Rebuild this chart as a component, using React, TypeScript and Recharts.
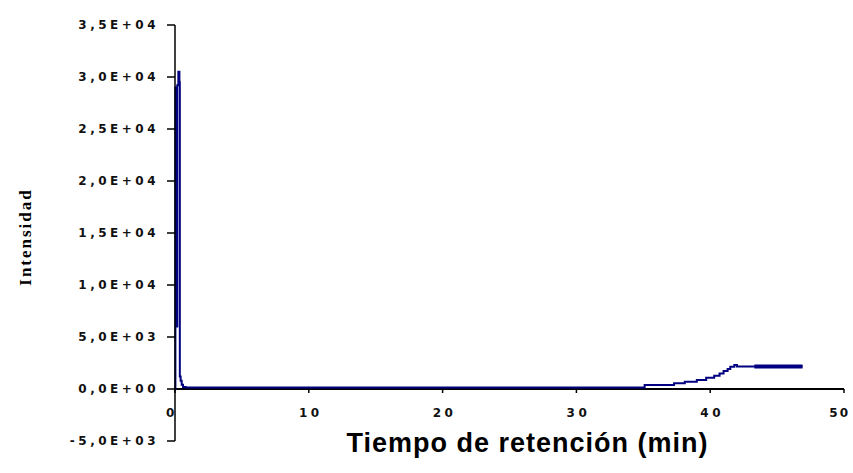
import React from "react";
import { LineChart, Line, XAxis, YAxis, ReferenceLine } from "recharts";

const tiempos = [
  0, 0.03, 0.1, 0.17, 0.25, 0.33, 0.36, 0.42, 0.5, 0.6, 0.8,
  35.1, 37.3, 38.1, 39.0, 39.7, 40.3, 40.7, 41.0, 41.3, 41.5, 41.8, 42.0,
  43.3, 46.9,
];
const intensidad = [
  0, 29000, 6000, 29200, 30500, 29500, 1200, 800, 400, 200, 150,
  380, 550, 700, 870, 1090, 1280, 1500, 1730, 1920, 2150, 2300, 2170,
  2170, 2170,
];
// tramo final con ruido (se ve mas grueso)
const ruido = [
  null, null, null, null, null, null, null, null, null, null, null,
  null, null, null, null, null, null, null, null, null, null, null, null,
  2170, 2170,
];

const xTicks = [0, 10, 20, 30, 40, 50];
const yTicks = [-5000, 0, 5000, 10000, 15000, 20000, 25000, 30000, 35000];

const W = 853;
const H = 473;
const TOP = 25;
const X_AXIS_H = 32;
const Y_MIN = -5000;
const Y_MAX = 35000;
const PLOT_H = H - TOP - X_AXIS_H;
const ZERO_Y = TOP + (PLOT_H * Y_MAX) / (Y_MAX - Y_MIN);

const data = tiempos.map((t, i) => ({ t, v: intensidad[i], r: ruido[i] }));

const tickFont = {
  fontFamily: "DejaVu Sans",
  fontSize: 12,
  fontWeight: "bold",
  letterSpacing: 3.5,
  fill: "#111",
};

const fmt = (v: number) => {
  if (v === 0) return "0,0E+00";
  const e = Math.floor(Math.log10(Math.abs(v)));
  const m = v / Math.pow(10, e);
  return m.toFixed(1).replace(".", ",") + "E" + (e >= 0 ? "+" : "-") + String(Math.abs(e)).padStart(2, "0");
};

const XTick = (props: any) => {
  const { x, payload } = props;
  // el ultimo rotulo queda pegado al borde derecho
  const last = payload.value === xTicks[xTicks.length - 1];
  const first = payload.value === xTicks[0];
  return (
    <g>
      <line x1={x} x2={x} y1={ZERO_Y} y2={ZERO_Y + 4} stroke="#000" strokeWidth={1.5} />
      <text
        x={last ? W - 3 : x}
        dx={first ? -3 : last ? 0 : 2}
        y={ZERO_Y + 28}
        textAnchor={last ? "end" : "middle"}
        {...tickFont}
        letterSpacing={last ? 2 : 3.5}
      >
        {payload.value}
      </text>
    </g>
  );
};

const App = () => {
  return (
    <div style={{ position: "absolute", left: 0, top: 0 }}>
      <LineChart width={W} height={H} data={data} margin={{ top: TOP, right: 9, bottom: 0, left: 0 }}>
        <XAxis
          dataKey="t"
          type="number"
          domain={[0, 50]}
          ticks={xTicks}
          axisLine={false}
          tickLine={false}
          height={X_AXIS_H}
          tick={<XTick />}
          interval={0}
          label={{
            content: (p: any) => (
              <text
                x={p.viewBox.x + p.viewBox.width / 2 + 18}
                y={p.viewBox.y + 11}
                textAnchor="middle"
                fontFamily="Liberation Sans"
                fontWeight="bold"
                fontSize={27}
                letterSpacing={1}
                fill="#000"
              >
                Tiempo de retención (min)
              </text>
            ),
          }}
        />
        <YAxis
          type="number"
          domain={[Y_MIN, Y_MAX]}
          ticks={yTicks}
          interval={0}
          width={175}
          tickFormatter={fmt}
          tick={tickFont}
          tickSize={8}
          tickMargin={8}
          axisLine={{ stroke: "#000", strokeWidth: 1.5 }}
          tickLine={{ stroke: "#000", strokeWidth: 1.5 }}
          label={{
            content: (p: any) => {
              const cx = 31;
              const cy = p.viewBox.y + p.viewBox.height / 2 + 4;
              return (
                <text
                  x={cx}
                  y={cy}
                  transform={`rotate(-90 ${cx} ${cy})`}
                  textAnchor="middle"
                  fontFamily="Liberation Serif"
                  fontWeight="bold"
                  fontSize={17}
                  letterSpacing={2}
                  fill="#000"
                >
                  Intensidad
                </text>
              );
            },
          }}
        />
        <ReferenceLine y={0} stroke="#000" strokeWidth={2} />
        <Line
          dataKey="v"
          type="stepAfter"
          stroke="#000080"
          strokeWidth={2}
          dot={false}
          activeDot={false}
          isAnimationActive={false}
        />
        <Line
          dataKey="r"
          type="stepAfter"
          stroke="#000080"
          strokeWidth={4}
          dot={false}
          activeDot={false}
          isAnimationActive={false}
        />
      </LineChart>
    </div>
  );
};

export default App;
